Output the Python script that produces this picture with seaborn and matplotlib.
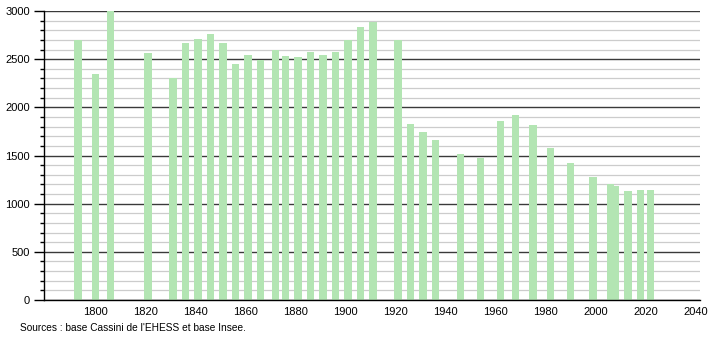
import matplotlib
matplotlib.use("Agg")
import matplotlib.pyplot as plt
import seaborn as sns
import numpy as np
from matplotlib.ticker import MultipleLocator

years = [1793, 1800, 1806, 1821, 1831, 1836, 1841, 1846, 1851, 1856,
         1861, 1866, 1872, 1876, 1881, 1886, 1891, 1896, 1901, 1906,
         1911, 1921, 1926, 1931, 1936, 1946, 1954, 1962, 1968, 1975,
         1982, 1990, 1999, 2006, 2008, 2013, 2018, 2022]
population = [2703, 2344, 3000, 2561, 2302, 2665, 2707, 2758, 2665, 2447,
              2541, 2489, 2593, 2530, 2520, 2572, 2541, 2572, 2696, 2831,
              2883, 2700, 1825, 1742, 1659, 1514, 1473, 1856, 1918, 1815,
              1576, 1421, 1276, 1200, 1186, 1130, 1141, 1141]
x_ticks = [1800, 1820, 1840, 1860, 1880, 1900, 1920, 1940, 1960, 1980, 2000, 2020, 2040]
y_ticks = [0, 500, 1000, 1500, 2000, 2500, 3000]
source_text = "Sources : base Cassini de l'EHESS et base Insee."

sns.set_style("white")
plt.rcParams['font.family'] = ['Liberation Sans', 'DejaVu Sans']
plt.rcParams['text.color'] = '#000000'

fig = plt.figure(figsize=(7.1, 3.4), dpi=100)
ax = fig.add_axes([44/710, 40/340, 656/710, 289/340])

# grid lines
for v in range(0, 3001, 100):
    if v % 500 == 0:
        ax.axhline(v, color="#3a3a3a", lw=1.0, zorder=0)
    else:
        ax.axhline(v, color="#cccccc", lw=0.9, zorder=0)

sns.barplot(x=years, y=population, native_scale=True, width=1.6,
            color="#b3e5b3", saturation=1, linewidth=0, ax=ax, zorder=2)

ax.set_xlim(1779.4, 2041.8)
ax.set_ylim(0, 3000)
ax.set_xticks(x_ticks)
ax.set_xticklabels([str(t) for t in x_ticks])
ax.set_yticks(y_ticks)
ax.set_yticklabels([str(t) for t in y_ticks])
ax.yaxis.set_minor_locator(MultipleLocator(100))
ax.tick_params(axis='x', bottom=False, length=0, labelsize=8, pad=5, colors="#000000")
ax.tick_params(axis='y', which='major', left=True, length=7, width=1, labelsize=8, pad=3, colors="#000000")
ax.tick_params(axis='y', which='minor', left=True, length=3, width=1, colors="#000000")
ax.set_xlabel("")
ax.set_ylabel("")
for s in ["top", "right"]:
    ax.spines[s].set_visible(False)
ax.spines["left"].set_color("#000000")
ax.spines["bottom"].set_color("#000000")
ax.spines["left"].set_linewidth(1)
ax.spines["bottom"].set_linewidth(1)

fig.text(20/710, 1 - 328/340, source_text, fontsize=7.3, va="center", ha="left",
         color="#000000")

fig.savefig("out.png", dpi=100)
